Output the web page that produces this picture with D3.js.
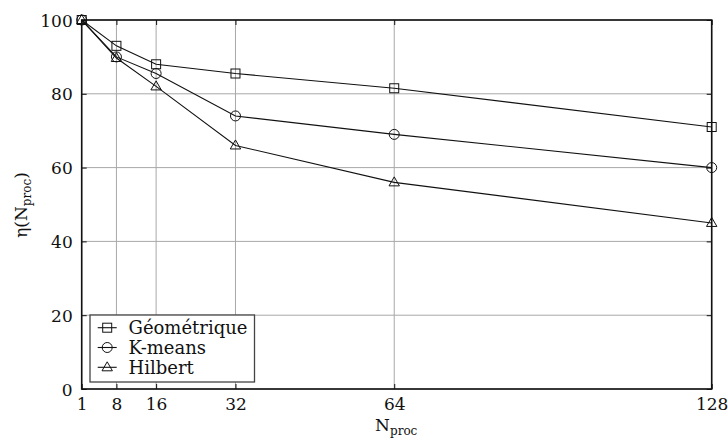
<!DOCTYPE html>
<html><head><meta charset="utf-8">
<script src="https://cdn.jsdelivr.net/npm/d3@7"></script>
<style>body{margin:0;background:#fff}svg{display:block}</style>
</head><body><svg id="c" width="728" height="442"></svg>
<script>
const procs = [1, 8, 16, 32, 64, 128];
const geometrique = [100, 93, 88, 85.5, 81.5, 71];
const kmeans = [100, 90, 85.5, 74, 69, 60];
const hilbert = [100, 89.7, 82, 66, 56, 45];
const seriesNames = ["Géométrique", "K-means", "Hilbert"];
const seriesShapes = ["square", "circle", "triangle"];
const yTicks = [0, 20, 40, 60, 80, 100];

const FONT = "DejaVu Serif";
const FS = 17;
const svg = d3.select("#c");
const m = {l: 81.7, r: 728 - 711.7, t: 20, b: 442 - 389};
const W = 728 - m.l - m.r, H = 442 - m.t - m.b;
const x = d3.scaleLinear().domain([1, 128]).range([m.l, m.l + W]);
const y = d3.scaleLinear().domain([0, 100]).range([m.t + H, m.t]);
const g = svg.append("g");

// grid
g.selectAll(".vg").data(procs).join("line")
  .attr("x1", d => x(d)).attr("x2", d => x(d)).attr("y1", y(0)).attr("y2", y(100))
  .attr("stroke", "#a8a8a8").attr("stroke-width", 1);
g.selectAll(".hg").data(yTicks).join("line")
  .attr("x1", x(1)).attr("x2", x(128)).attr("y1", d => y(d)).attr("y2", d => y(d))
  .attr("stroke", "#a8a8a8").attr("stroke-width", 1);

// axes with inner ticks
const axB = d3.axisBottom(x).tickValues(procs).tickSizeInner(-5).tickSizeOuter(0).tickPadding(9);
const axL = d3.axisLeft(y).tickValues(yTicks).tickSizeInner(-5).tickSizeOuter(0).tickPadding(9);
const axR = d3.axisRight(y).tickValues(yTicks).tickSizeInner(-5).tickSizeOuter(0).tickFormat("");
const axT = d3.axisTop(x).tickValues(procs).tickSizeInner(-5).tickSizeOuter(0).tickFormat("");
const gb = svg.append("g").attr("transform", `translate(0,${y(0)})`).call(axB);
const gl = svg.append("g").attr("transform", `translate(${x(1)},0)`).call(axL);
svg.append("g").attr("transform", `translate(${x(128)},0)`).call(axR);
svg.append("g").attr("transform", `translate(0,${y(100)})`).call(axT);
svg.selectAll(".domain").remove();
svg.selectAll("g").attr("font-family", FONT).attr("font-size", FS);
svg.selectAll(".tick line").attr("stroke", "#111");
svg.selectAll(".tick text").attr("font-family", FONT).attr("font-size", FS).attr("fill", "#111");
gl.selectAll(".tick text").attr("dy", "0.36em");
gb.selectAll(".tick text").attr("dy", "0.72em");

// frame
svg.append("rect").attr("x", x(1)).attr("y", y(100)).attr("width", x(128) - x(1)).attr("height", y(0) - y(100))
  .attr("fill", "none").attr("stroke", "#111").attr("stroke-width", 1.6);

const data = [geometrique, kmeans, hilbert];
const line = d3.line().x((d, i) => x(procs[i])).y(d => y(d));

function marker(sel, shape) {
  if (shape === "square") {
    sel.append("rect").attr("x", -4.5).attr("y", -4.5).attr("width", 9).attr("height", 9)
      .attr("fill", "none").attr("stroke", "#111").attr("stroke-width", 1);
  } else if (shape === "circle") {
    sel.append("circle").attr("r", 5).attr("fill", "none").attr("stroke", "#111").attr("stroke-width", 1);
  } else {
    sel.append("path").attr("d", "M0,-5.5L5.2,3.5L-5.2,3.5Z").attr("fill", "none").attr("stroke", "#111").attr("stroke-width", 1);
  }
}

data.forEach((vals, si) => {
  svg.append("path").datum(vals).attr("d", line).attr("fill", "none").attr("stroke", "#111").attr("stroke-width", 1.1);
  vals.forEach((v, i) => {
    const mk = svg.append("g").attr("transform", `translate(${x(procs[i])},${y(v)})`);
    marker(mk, seriesShapes[si]);
  });
});

// legend
const lg = svg.append("g");
lg.append("rect").attr("x", 90).attr("y", 315).attr("width", 164.5).attr("height", 67)
  .attr("fill", "#fff").attr("stroke", "#444").attr("stroke-width", 1.3);
seriesNames.forEach((n, i) => {
  const yy = 327.7 + i * 19.8;
  lg.append("line").attr("x1", 97.7).attr("x2", 116.7).attr("y1", yy).attr("y2", yy).attr("stroke", "#111").attr("stroke-width", 1.1);
  const mk = lg.append("g").attr("transform", `translate(107.2,${yy})`);
  marker(mk, seriesShapes[i]);
  lg.append("text").attr("x", 128.5).attr("y", yy).attr("dy", "0.36em")
    .attr("font-family", FONT).attr("font-size", 18).attr("fill", "#111").text(n);
});

// axis labels
const xl = svg.append("text").attr("x", x(64) + 2).attr("y", 431).attr("text-anchor", "middle")
  .attr("font-family", FONT).attr("font-size", FS).attr("fill", "#111");
xl.append("tspan").text("N");
xl.append("tspan").attr("dy", 4).attr("font-size", 12).text("proc");

const yl = svg.append("text").attr("transform", "translate(27,205) rotate(-90)").attr("text-anchor", "middle")
  .attr("font-family", FONT).attr("font-size", FS).attr("fill", "#111");
yl.append("tspan").text("η(N");
yl.append("tspan").attr("dy", 4).attr("font-size", 12).text("proc");
yl.append("tspan").attr("dy", -4).text(")");
</script></body></html>
